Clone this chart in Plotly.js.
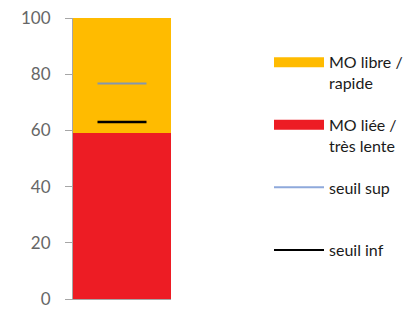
<!DOCTYPE html>
<html><head><meta charset="utf-8">
<script src="https://cdn.plot.ly/plotly-3.0.1.min.js"></script>
<style>html,body{margin:0;padding:0;background:#fff;}</style>
</head><body><div id="chart" style="width:419px;height:309px;"></div>
<script>
const categories = ['sol'];
const moLiee = [59];
const moLibre = [41];
const seuilSup = [76.7];
const seuilInf = [63];
const seriesNames = ['MO libre /<br>rapide', 'MO liée /<br>très lente', 'seuil sup<br> ', 'seuil inf<br> '];
const yTicks = [0, 20, 40, 60, 80, 100];

const lineX = [-0.25, 0.25];
const traces = [
  {type:'bar', x:[0], y:moLiee, marker:{color:'#ED1C24'}, width:1, showlegend:false, hoverinfo:'skip'},
  {type:'bar', x:[0], y:moLibre, marker:{color:'#FFBB00'}, width:1, showlegend:false, hoverinfo:'skip'},
  {type:'scatter', mode:'lines', x:lineX, y:[seuilSup[0], seuilSup[0]], line:{color:'#8497B0', width:2}, showlegend:false},
  {type:'scatter', mode:'lines', x:lineX, y:[seuilInf[0], seuilInf[0]], line:{color:'#000000', width:2.5}, showlegend:false},
  {type:'scatter', mode:'lines', x:[null], y:[null], name:seriesNames[0], line:{color:'#FFBB00', width:10}, legendgroup:'a'},
  {type:'scatter', mode:'lines', x:[null], y:[null], name:seriesNames[1], line:{color:'#ED1C24', width:10}, legendgroup:'b'},
  {type:'scatter', mode:'lines', x:[null], y:[null], name:seriesNames[2], line:{color:'#8EA9DB', width:2}, legendgroup:'c'},
  {type:'scatter', mode:'lines', x:[null], y:[null], name:seriesNames[3], line:{color:'#000000', width:2}, legendgroup:'d'}
];
const layout = {
  width:419, height:309,
  margin:{l:73, r:248, t:18, b:10},
  barmode:'stack',
  paper_bgcolor:'#fff', plot_bgcolor:'#fff',
  showlegend:true,
  font:{family:'Lato, sans-serif', color:'#222'},
  xaxis:{range:[-0.5,0.5], showticklabels:false, ticks:'', showgrid:false, zeroline:false,
         showline:true, linecolor:'#A6A6A6', linewidth:1, fixedrange:true},
  yaxis:{range:[0,100], tickvals:yTicks, ticktext:yTicks.map(String), ticks:'outside', ticklen:7,
         tickcolor:'#A6A6A6', showline:true, linecolor:'#A6A6A6', linewidth:1, showgrid:false,
         zeroline:false, tickfont:{size:17, color:'#666666', family:'Lato, sans-serif'}, ticklabelstandoff:11,
         ticklabeloverflow:'allow'},
  legend:{x:2.0, xanchor:'left', y:0.903, yanchor:'top', traceorder:'grouped', tracegroupgap:18,
          itemwidth:50, valign:'top', font:{size:16, color:'#1a1a1a', family:'Lato, sans-serif'},
          bgcolor:'rgba(0,0,0,0)'}
};
Plotly.newPlot('chart', traces, layout, {displayModeBar:false, staticPlot:true});
</script></body></html>
